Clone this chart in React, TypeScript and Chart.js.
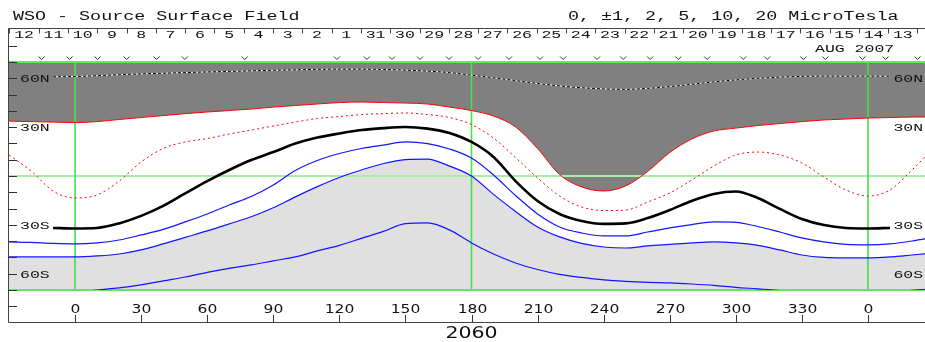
import React, { useEffect, useRef } from 'react';
import { Chart, registerables } from 'chart.js';

Chart.register(...registerables);

// Carrington longitude grid (degrees) shared by all contour lines
const lons = [-30, -20, -10, 0, 10, 20, 30, 40, 50, 60, 70, 80, 90, 100, 110, 120, 130, 140, 150, 160, 170, 180, 190, 200, 210, 220, 230, 240, 250, 260, 270, 280, 290, 300, 310, 320, 330, 340, 350, 360, 370, 380, 390];

// Contour latitudes (degrees)
const northDashed = [null, null, 60.9, 61.1, 61.6, 62.2, 62.7, 63.1, 63.5, 63.9, 64.2, 64.6, 64.9, 65.2, 65.5, 65.6, 65.6, 65.4, 65.0, 64.4, 63.5, 61.9, 60.3, 58.6, 56.8, 55.3, 54.2, 53.5, 53.2, 53.8, 54.9, 56.3, 57.8, 59.0, 60.0, 60.7, 61.2, 61.3, 61.3, 61.3, 61.3, null, null];
const redSolid = [33.7, 33.4, 33.1, 32.8, 33.4, 34.7, 35.9, 37.1, 38.3, 39.3, 40.2, 41.1, 42.3, 43.3, 44.2, 45.1, 45.4, 45.1, 44.8, 44.2, 42.3, 40.2, 36.8, 30.1, 16.9, 0.9, -6.7, -9.2, -6.1, 2.8, 14.4, 22.7, 27.6, 29.4, 31.0, 32.2, 33.4, 34.4, 35.0, 35.6, 35.9, 36.2, 36.2];
const redDotted = [12.9, 3.1, -9.2, -13.5, -11.7, -3.1, 8.6, 16.9, 20.9, 23.0, 25.8, 28.2, 30.7, 33.1, 35.3, 36.5, 37.7, 38.3, 38.7, 37.7, 35.9, 31.6, 23.3, 11.3, -1.2, -12.3, -19.0, -21.2, -20.9, -16.0, -10.4, -2.5, 6.1, 12.9, 14.7, 12.9, 8.0, -0.6, -8.6, -12.3, -8.6, 3.7, 17.2];
const neutralLine = [null, null, -31.9, -32.2, -31.9, -29.1, -24.5, -18.4, -10.7, -3.1, 3.7, 9.8, 14.7, 19.9, 23.6, 26.1, 28.2, 29.4, 30.1, 29.1, 26.4, 20.9, 11.7, -3.1, -15.3, -23.3, -27.6, -29.4, -29.1, -25.8, -20.9, -15.3, -11.0, -9.5, -13.5, -20.2, -26.4, -30.1, -31.9, -32.2, -31.9, null, null];
const blue1 = [-40.5, -40.8, -41.4, -41.7, -41.1, -39.3, -36.2, -32.8, -28.2, -23.3, -17.8, -12.6, -5.5, 3.4, 9.5, 13.8, 16.9, 19.0, 20.9, 19.9, 16.6, 11.0, 0.6, -12.0, -23.3, -31.3, -35.0, -36.8, -36.8, -34.4, -31.9, -29.8, -28.2, -28.5, -31.0, -34.4, -38.0, -40.5, -42.0, -42.3, -41.7, -39.9, -37.4];
const blue2 = [-49.7, -49.7, -49.7, -49.7, -49.1, -47.9, -45.4, -41.7, -37.7, -33.7, -29.4, -25.0, -19.5, -12.8, -6.5, -0.9, 3.7, 7.7, 10.1, 10.4, 6.1, 0.0, -11.3, -21.8, -31.3, -37.4, -41.4, -43.6, -44.2, -42.9, -42.0, -41.1, -40.5, -41.1, -42.6, -45.4, -48.5, -50.0, -50.3, -50.3, -49.7, -48.5, -47.2];
const blue3 = [-72, -72, -72, -71.5, -70.0, -68.7, -66.9, -64.4, -62.0, -59.2, -56.7, -54.6, -52.1, -49.7, -46.0, -42.6, -38.3, -34.0, -29.2, -28.8, -33.1, -41.1, -47.9, -53.4, -57.4, -60.4, -62.3, -63.8, -64.7, -65.3, -65.6, -66.3, -67.2, -68.4, -69.3, -70.3, -72, -72, -72, -72, -72, -70.2, -69.0];

// Axes / annotations
const gridLons = [0, 180, 360];
const lonTicks = [0, 30, 60, 90, 120, 150, 180, 210, 240, 270, 300, 330, 360, 390];
const lonTickLabels = ['0', '30', '60', '90', '120', '150', '180', '210', '240', '270', '300', '330', '0', '30'];
const latTickValues = [-80, -70, -60, -50, -40, -30, -20, -10, 0, 10, 20, 30, 40, 50, 60, 70, 80];
const latLabelValues = [60, 30, -30, -60];
const latLabelTexts = ['60N', '30N', '30S', '60S'];
const dayLabels = ['12', '11', '10', '9', '8', '7', '6', '5', '4', '3', '2', '1', '31', '30', '29', '28', '27', '26', '25', '24', '23', '22', '21', '20', '19', '18', '17', '16', '15', '14', '13'];
const dayTickStartLon = -29.8;
const degPerDay = 13.3;
const obsMarkLons = [-15.2, -2.5, 10.2, 23.4, 37.0, 49.8, 77.0, 118.9, 132.5, 143.9, 156.6, 169.8, 183.0, 197.0, 211.1, 221.6, 237.0, 248.9, 261.1, 273.9, 287.0, 303.4, 314.3, 330.7, 340.7, 357.5, 368.0, 382.5];
const titleText = 'WSO - Source Surface Field';
const contourText = '0, \u00b11, 2, 5, 10, 20 MicroTesla';
const monthLabel = 'AUG 2007';
const rotationLabel = '2060';

const MONO = 'Liberation Mono, DejaVu Sans Mono, monospace';
const SANS = 'DejaVu Sans, Verdana, sans-serif';

function drawText(ctx: CanvasRenderingContext2D, text: string, x: number, y: number, font: string, sx: number, align: 'left' | 'center' | 'right', color = '#111') {
  ctx.save();
  ctx.font = font;
  const w = ctx.measureText(text).width * sx;
  const x0 = align === 'center' ? x - w / 2 : align === 'right' ? x - w : x;
  ctx.translate(x0, y);
  ctx.scale(sx, 1);
  ctx.textAlign = 'left';
  ctx.textBaseline = 'alphabetic';
  ctx.fillStyle = color;
  ctx.fillText(text, 0, 0);
  ctx.restore();
}

const pts = (vals: (number | null)[]) =>
  lons.map((x, i) => ({ x, y: vals[i] })).filter((p) => p.y !== null);

const decor = {
  id: 'decor',
  beforeDatasetsDraw(chart: any) {
    const { ctx, chartArea: ca, scales } = chart;
    const xs = scales.x, ys = scales.y;
    ctx.save();
    // equator
    ctx.strokeStyle = 'rgb(165,240,165)';
    ctx.lineWidth = 2;
    const y0 = ys.getPixelForValue(0);
    ctx.beginPath(); ctx.moveTo(ca.left, y0); ctx.lineTo(ca.right, y0); ctx.stroke();
    // meridians
    ctx.strokeStyle = 'rgb(70,225,70)';
    ctx.lineWidth = 1.6;
    for (const l of gridLons) {
      const px = xs.getPixelForValue(l);
      ctx.beginPath(); ctx.moveTo(px, ca.top); ctx.lineTo(px, ca.bottom); ctx.stroke();
    }
    // top & bottom boundary
    ctx.strokeStyle = 'rgb(100,230,100)';
    ctx.lineWidth = 2;
    ctx.beginPath(); ctx.moveTo(ca.left, ca.top); ctx.lineTo(ca.right, ca.top); ctx.stroke();
    ctx.beginPath(); ctx.moveTo(ca.left, ca.bottom); ctx.lineTo(ca.right, ca.bottom); ctx.stroke();
    ctx.restore();
  },
  afterDraw(chart: any) {
    const { ctx, chartArea: ca, scales, width } = chart;
    const xs = scales.x, ys = scales.y;
    const frameTop = ca.top - 33.5;
    const frameBottom = ca.bottom + 32.5;
    const leftX = ca.left - 0.5;
    ctx.save();
    ctx.lineWidth = 1;
    ctx.strokeStyle = '#444';
    // frame
    ctx.beginPath();
    ctx.moveTo(width, frameTop); ctx.lineTo(leftX, frameTop); ctx.lineTo(leftX, frameBottom); ctx.lineTo(width, frameBottom);
    ctx.stroke();
    // date ticks + labels
    for (let k = 0; k <= dayLabels.length; k++) {
      const px = Math.round(xs.getPixelForValue(dayTickStartLon + k * degPerDay)) + 0.5;
      ctx.beginPath(); ctx.moveTo(px, frameTop); ctx.lineTo(px, frameTop + 5); ctx.stroke();
    }
    dayLabels.forEach((t, k) => {
      const px = xs.getPixelForValue(dayTickStartLon + (k + 0.5) * degPerDay);
      drawText(ctx, t, px, frameTop + 9.5, '11px ' + MONO, 1.5, 'center');
    });
    drawText(ctx, monthLabel, 815, frameTop + 23.5, '11px ' + MONO, 1.5, 'left');
    // observation marks
    ctx.strokeStyle = '#333';
    for (const l of obsMarkLons) {
      const px = xs.getPixelForValue(l);
      ctx.beginPath();
      ctx.moveTo(px - 3, ca.top - 5.5); ctx.lineTo(px, ca.top - 2.5); ctx.lineTo(px + 3, ca.top - 5.5);
      ctx.stroke();
    }
    // latitude ticks
    ctx.strokeStyle = '#333';
    for (const lat of latTickValues) {
      const py = Math.round(ys.getPixelForValue(lat)) + 0.5;
      ctx.beginPath(); ctx.moveTo(leftX, py); ctx.lineTo(ca.left + 8, py); ctx.stroke();
    }
    latLabelValues.forEach((lat, i) => {
      const py = ys.getPixelForValue(lat) + 4;
      drawText(ctx, latLabelTexts[i], ca.left + 11, py, '11px ' + MONO, 1.5, 'left');
      drawText(ctx, latLabelTexts[i], xs.getPixelForValue(360) + 25.5, py, '11px ' + MONO, 1.5, 'left');
    });
    // bottom longitude axis
    ctx.strokeStyle = '#333';
    lonTicks.forEach((l, i) => {
      const px = Math.round(xs.getPixelForValue(l)) + 0.5;
      ctx.beginPath(); ctx.moveTo(px, frameBottom); ctx.lineTo(px, frameBottom - 7.5); ctx.stroke();
      drawText(ctx, lonTickLabels[i], px, ca.bottom + 22.5, '11.5px ' + SANS, 1.35, 'center');
    });
    drawText(ctx, rotationLabel, xs.getPixelForValue(180), frameBottom + 15.5, '16px ' + SANS, 1.28, 'center');
    // titles
    drawText(ctx, titleText, 13, 20, '12px ' + MONO, 1.53, 'left');
    drawText(ctx, contourText, 568, 19.5, '12px ' + MONO, 1.53, 'left');
    ctx.restore();
  },
};

export default function App() {
  const ref = useRef<HTMLCanvasElement>(null);
  useEffect(() => {
    const line = (data: any, color: string, width: number, order: number, extra: any = {}) => ({
      data: pts(data),
      borderColor: color,
      borderWidth: width,
      pointRadius: 0,
      fill: false,
      cubicInterpolationMode: 'monotone',
      order,
      ...extra,
    });
    const chart = new Chart(ref.current!, {
      type: 'line',
      data: {
        datasets: [
          line(neutralLine, '#000', 2.6, 1),
          line(northDashed, '#000', 1, 2, { borderDash: [3, 2] }),
          line(northDashed, '#fff', 1, 3),
          line(redDotted, 'rgb(255,0,0)', 1, 4, { borderDash: [2, 3] }),
          line(redSolid, 'rgb(255,0,0)', 1, 5, { fill: 'end', backgroundColor: 'rgb(128,128,128)' }),
          line(blue1, 'rgb(20,20,255)', 1.2, 6),
          line(blue2, 'rgb(20,20,255)', 1.2, 7, { fill: 'start', backgroundColor: 'rgb(224,224,224)' }),
          line(blue3, 'rgb(20,20,255)', 1.2, 8),
        ] as any,
      },
      options: {
        animation: false,
        responsive: false,
        devicePixelRatio: 1,
        layout: { padding: { left: 9, top: 62, right: 26, bottom: 52 } },
        scales: {
          x: { type: 'linear', min: -30, max: 390, display: false },
          y: { type: 'linear', min: -70, max: 70, display: false },
        },
        plugins: {
          legend: { display: false },
          tooltip: { enabled: false },
          filler: { drawTime: 'beforeDatasetsDraw' },
        } as any,
        events: [],
      },
      plugins: [decor],
    } as any);
    return () => chart.destroy();
  }, []);
  return (
    <div style={{ position: 'fixed', left: 0, top: 0, width: 925, height: 342, overflow: 'hidden', background: '#fff' }}>
      <canvas ref={ref} width={960} height={342} style={{ display: 'block', width: 960, height: 342 }} />
    </div>
  );
}
